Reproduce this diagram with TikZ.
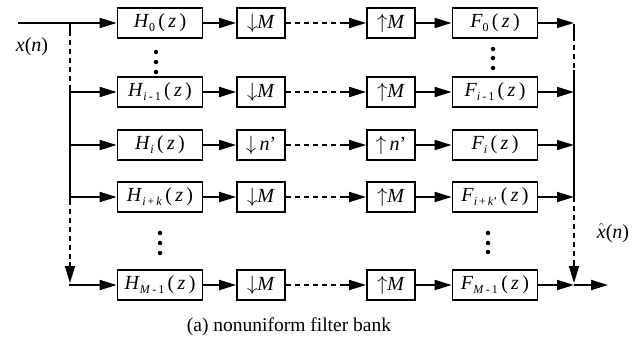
\documentclass[tikz,border=0pt]{standalone}
\usepackage{fontspec}
\setmainfont{Liberation Serif}
\usetikzlibrary{arrows.meta,calc}
\newcommand{\subsz}{\fontsize{12}{12}\selectfont}
\newcommand{\fil}[2]{\textit{#1}\raisebox{-0.45ex}{\subsz #2}\,(\,\textit{z}\,)}
\begin{document}
\begin{tikzpicture}[x=1pt,y=-1pt,
  ln/.style={line width=1.8pt},
  dsh/.style={line width=1.8pt, dash pattern=on 5pt off 4pt},
  arr/.style={line width=1.8pt, -{Triangle[length=17pt,width=10pt]}},
  box/.style={draw, line width=1.7pt, minimum height=30pt, inner sep=0pt, font=\fontsize{20}{22}\selectfont},
  hbox/.style={box, minimum width=85pt},
  sbox/.style={box, minimum width=48pt},
  lbl/.style={font=\fontsize{20}{22}\selectfont},
  dot/.style={circle, fill, inner sep=0pt, minimum size=4.5pt}]
\useasboundingbox (0,0) rectangle (642,348);

% rows: y = 23, 92, 145, 197, 285
\node[hbox] (H0) at (160,23) {\fil{H}{0}};
\node[hbox] (H1) at (160,92) {\fil{H}{\textit{i}\,-\,1}};
\node[hbox] (H2) at (160,145) {\fil{H}{\textit{i}}};
\node[hbox] (H3) at (160,197) {\fil{H}{\textit{i}\,+\,\textit{k}}};
\node[hbox] (H4) at (160,285) {\fil{H}{\textit{M}\,-\,1}};

\node[sbox] (D0) at (261,23) {$\downarrow$\textit{M}};
\node[sbox] (D1) at (261,92) {$\downarrow$\textit{M}};
\node[sbox] (D2) at (261,145) {$\downarrow$\,\textit{n}'};
\node[sbox] (D3) at (261,197) {$\downarrow$\textit{M}};
\node[sbox] (D4) at (261,285) {$\downarrow$\textit{M}};

\node[sbox] (U0) at (391,23) {$\uparrow$\textit{M}};
\node[sbox] (U1) at (391,92) {$\uparrow$\textit{M}};
\node[sbox] (U2) at (391,145) {$\uparrow$\,\textit{n}'};
\node[sbox] (U3) at (391,197) {$\uparrow$\textit{M}};
\node[sbox] (U4) at (391,285) {$\uparrow$\textit{M}};

\node[hbox] (F0) at (495,23) {\fil{F}{0}};
\node[hbox] (F1) at (495,92) {\fil{F}{\textit{i}\,-\,1}};
\node[hbox] (F2) at (495,145) {\fil{F}{\textit{i}}};
\node[hbox] (F3) at (495,197) {\fil{F}{\textit{i}\,+\,\textit{k}'}};
\node[hbox] (F4) at (495,285) {\fil{F}{\textit{M}\,-\,1}};

% left trunk
\coordinate (in) at (18,23);
\coordinate (La) at (70,23);
\coordinate (Lb) at (70,31);
\coordinate (Lc) at (70,87);
\coordinate (Ld) at (70,200);
\coordinate (Le) at (70,262);
\coordinate (Lf) at (70,283);
\coordinate (Lg) at (70,285);
\draw[arr] (in) -- (H0.west);
\draw[ln] (La) -- (Lb);
\draw[dsh] (Lb) -- (Lc);
\draw[ln] (Lc) -- (Ld);
\draw[dsh] (Ld) -- (Le);
\draw[arr] (Le) -- (Lf);
\draw[arr] ([xshift=-0.9pt]Lg) -- (H4.west);
\foreach \r in {1,2,3} {
  \draw[arr] (H\r.west -| La) -- (H\r.west);
}

% right trunk
\coordinate (Ra) at (574,23);
\coordinate (Rb) at (574,36);
\coordinate (Rc) at (574,70);
\coordinate (Rd) at (574,197);
\coordinate (Re) at (574,260);
\coordinate (Rf) at (574,283);
\coordinate (Rg) at (574,285);
\coordinate (out) at (608,285);
\draw[ln] ([yshift=-0.9pt]Ra) -- (Rb);
\draw[dsh] (Rb) -- (Rc);
\draw[ln] (Rc) -- (Rd);
\draw[dsh] (Rd) -- (Re);
\draw[arr] (Re) -- (Rf);
\draw[arr] (Rg) -- (out);

\foreach \r in {0,1,2,3,4} {
  \draw[arr] (H\r.east) -- (D\r.west);
  \draw[dsh] (D\r.east) -- ($(U\r.west)+(-24,0)$);
  \draw[arr] ($(U\r.west)+(-25,0)$) -- (U\r.west);
  \draw[arr] (U\r.east) -- (F\r.west);
  \draw[arr] (F\r.east) -- (F\r.east -| Ra);
}

% ellipsis dots
\node[dot] (a1) at (156,52) {};
\node[dot] (a2) at (156,62) {};
\node[dot] (a3) at (156,72) {};
\node[dot] (b1) at (493,49) {};
\node[dot] (b2) at (493,58) {};
\node[dot] (b3) at (493,68) {};
\node[dot] (c1) at (160,233) {};
\node[dot] (c2) at (160,243) {};
\node[dot] (c3) at (160,253) {};
\node[dot] (d1) at (488,233) {};
\node[dot] (d2) at (488,243) {};
\node[dot] (d3) at (488,252) {};

% labels
\node[lbl] (xin) at (32,47) {\textit{x}(\textit{n})};
\node[lbl] (xout) at (613,233) {$\hat{\mbox{\textit{x}}}$(\textit{n})};
\node[font=\fontsize{19.5}{22}\selectfont] (cap) at (289,327) {(a) nonuniform filter bank};
\end{tikzpicture}
\end{document}
